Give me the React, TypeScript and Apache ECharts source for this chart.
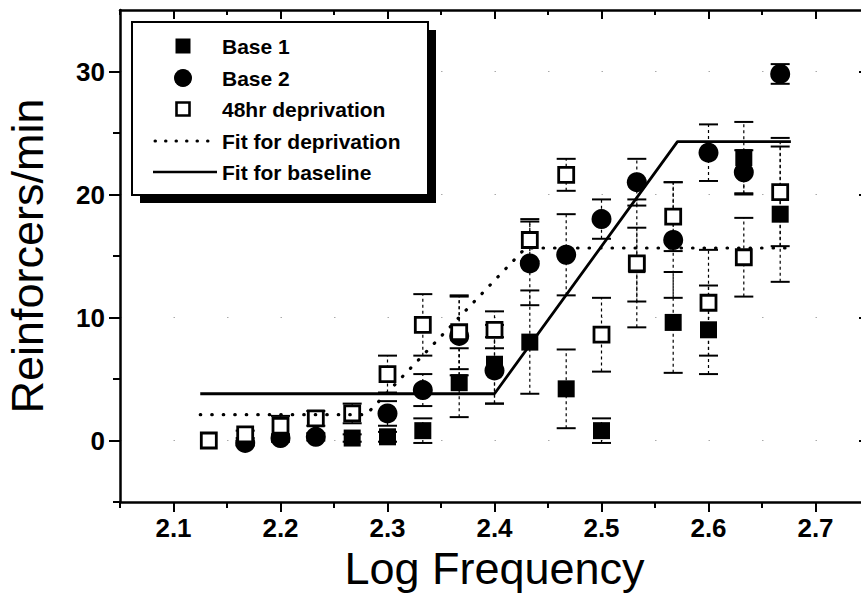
import React, { useEffect, useRef } from "react";
import * as echarts from "echarts";

const xValues = [2.133, 2.167, 2.2, 2.233, 2.267, 2.3, 2.333, 2.367, 2.4, 2.433, 2.467, 2.5, 2.533, 2.567, 2.6, 2.633, 2.667];
const base1 = [null, null, null, null, 0.2, 0.3, 0.8, 4.7, 6.2, 8.0, 4.2, 0.8, 14.3, 9.6, 9.0, 23.0, 18.4];
const base1Err = [null, null, null, null, 0.3, 0.4, 1.0, 2.8, 3.2, 4.2, 3.2, 1.0, 3.0, 4.1, 3.6, 2.9, 5.5];
const base2 = [null, -0.2, 0.2, 0.3, null, 2.2, 4.1, 8.5, 5.7, 14.4, 15.1, 18.0, 21.0, 16.3, 23.4, 21.8, 29.8];
const base2Err = [null, 0.2, 0.3, 0.3, null, 1.0, 1.3, 3.2, 2.7, 3.4, 3.3, 1.6, 1.9, 4.7, 2.3, 1.8, 0.8];
const deprivation = [0.0, 0.5, 1.2, 1.8, 2.2, 5.4, 9.4, 8.8, 9.0, 16.3, 21.6, 8.6, 14.4, 18.2, 11.2, 14.9, 20.2];
const deprivationErr = [0, 0.3, 0.8, 0.6, 0.8, 1.5, 2.5, 3.0, 1.5, 1.7, 1.3, 3.0, 5.2, 2.8, 4.3, 3.2, 4.4];

const fitDepX = [2.125, 2.28, 2.429, 2.675];
const fitDepY = [2.1, 2.1, 15.65, 15.65];
const fitBaseX = [2.125, 2.4, 2.571, 2.677];
const fitBaseY = [3.8, 3.8, 24.3, 24.3];

const xTicks = [2.1, 2.2, 2.3, 2.4, 2.5, 2.6, 2.7];
const xMinorTicks = [2.05, 2.15, 2.25, 2.35, 2.45, 2.55, 2.65, 2.75];
const yTicks = [0, 10, 20, 30];
const yMinorTicks = [-5, 5, 15, 25];

const legendNames = ["Base 1", "Base 2", "48hr deprivation", "Fit for deprivation", "Fit for baseline"];
const xTitle = "Log Frequency";
const yTitle = "Reinforcers/min";

const FONT = "'Liberation Sans', Arial, Helvetica, sans-serif";
const X_MIN = 2.05, X_MAX = 2.75, Y_MIN = -5, Y_MAX = 35;

function pairs(xs: number[], ys: (number | null)[]) {
  return xs.map((x, i) => (ys[i] == null ? null : [x, ys[i]])).filter((d) => d) as number[][];
}

function errorSeries(vals: (number | null)[], errs: (number | null)[], z: number) {
  const data: number[][] = [];
  xValues.forEach((x, i) => {
    const v = vals[i], e = errs[i];
    if (v != null && e) data.push([x, v - e, v + e]);
  });
  return {
    type: "custom",
    xAxisIndex: 0,
    yAxisIndex: 0,
    z,
    silent: true,
    data,
    encode: { x: 0, y: [1, 2] },
    renderItem: (params: any, api: any) => {
      const x = api.value(0);
      const lo = api.coord([x, api.value(1)]);
      const hi = api.coord([x, api.value(2)]);
      const hw = 9.5;
      return {
        type: "group",
        children: [
          { type: "line", shape: { x1: lo[0], y1: lo[1], x2: hi[0], y2: hi[1] }, style: { stroke: "#000", lineWidth: 1.2, lineDash: [3, 3] } },
          { type: "line", shape: { x1: lo[0] - hw, y1: lo[1], x2: lo[0] + hw, y2: lo[1] }, style: { stroke: "#000", lineWidth: 2 } },
          { type: "line", shape: { x1: hi[0] - hw, y1: hi[1], x2: hi[0] + hw, y2: hi[1] }, style: { stroke: "#000", lineWidth: 2 } },
        ],
      };
    },
  };
}

function xAxisDef(position: string, ticks: number[], len: number, inside: boolean, opts: any = {}) {
  return {
    type: "value",
    position,
    min: X_MIN,
    max: X_MAX,
    axisLine: { show: opts.line ?? false, onZero: false, lineStyle: { color: "#000", width: 2.5 } },
    axisTick: { show: true, inside, length: len, customValues: ticks, lineStyle: { color: "#000", width: 2 } },
    axisLabel: opts.labels
      ? { show: true, customValues: ticks, margin: 13, color: "#000", fontSize: 26, fontWeight: "bold", fontFamily: FONT, formatter: (v: number) => v.toFixed(1) }
      : { show: false },
    splitLine: { show: false },
    ...(opts.extra || {}),
  };
}

function yAxisDef(position: string, ticks: number[], len: number, inside: boolean, opts: any = {}) {
  return {
    type: "value",
    position,
    min: Y_MIN,
    max: Y_MAX,
    axisLine: { show: opts.line ?? false, onZero: false, lineStyle: { color: "#000", width: 2.5 } },
    axisTick: { show: true, inside, length: len, customValues: ticks, lineStyle: { color: "#000", width: 2 } },
    axisLabel: opts.labels
      ? { show: true, customValues: ticks, margin: 15, color: "#000", fontSize: 26, fontWeight: "bold", fontFamily: FONT }
      : { show: false },
    splitLine: { show: false },
    ...(opts.extra || {}),
  };
}

export default function App() {
  const ref = useRef<HTMLDivElement>(null);
  useEffect(() => {
    if (!ref.current) return;
    const chart = echarts.init(ref.current, undefined, { renderer: "svg" });
    const legendX = 183, textX = 222;
    const rows = [46, 78, 109, 141, 172];
    const option: any = {
      animation: false,
      backgroundColor: "#fff",
      grid: { left: 120, top: 10, right: -8, bottom: 106, containLabel: false, outerBoundsMode: "none" },
      xAxis: [
        xAxisDef("bottom", xTicks, 10, false, {
          line: true,
          labels: true,
          extra: {
            name: xTitle,
            nameLocation: "middle",
            nameGap: 42,
            nameTextStyle: { fontSize: 45, fontFamily: FONT, color: "#000", verticalAlign: "top" },
          },
        }),
        xAxisDef("bottom", xMinorTicks, 6, false),
        xAxisDef("top", xTicks, 9, true, { line: true }),
        xAxisDef("top", xMinorTicks, 5, true),
      ],
      yAxis: [
        yAxisDef("left", yTicks, 11, false, {
          line: true,
          labels: true,
          extra: {
            name: yTitle,
            nameLocation: "middle",
            nameGap: 70,
            nameTextStyle: { fontSize: 45, fontFamily: FONT, color: "#000" },
          },
        }),
        yAxisDef("left", yMinorTicks, 7, false),
        yAxisDef("right", yTicks, 10, true, {
          line: true,
          extra: { splitLine: { show: true, lineStyle: { color: "#aaa", width: 1.2, type: [1.5, 52] } } },
        }),
        yAxisDef("right", yMinorTicks, 6, true),
      ],
      series: [
        errorSeries(base1, base1Err, 2),
        errorSeries(base2, base2Err, 2),
        errorSeries(deprivation, deprivationErr, 2),
        {
          name: legendNames[0],
          type: "scatter",
          data: pairs(xValues, base1),
          symbol: "rect",
          symbolSize: 17,
          itemStyle: { color: "#000", opacity: 1 },
          z: 3,
          silent: true,
        },
        {
          name: legendNames[1],
          type: "scatter",
          data: pairs(xValues, base2),
          symbol: "circle",
          symbolSize: 20,
          itemStyle: { color: "#000", opacity: 1 },
          z: 4,
          silent: true,
        },
        {
          name: legendNames[2],
          type: "scatter",
          data: pairs(xValues, deprivation),
          symbol: "rect",
          symbolSize: 15,
          itemStyle: { color: "#fff", borderColor: "#000", borderWidth: 2.8, opacity: 1 },
          z: 5,
          silent: true,
        },
        {
          name: legendNames[3],
          type: "line",
          data: pairs(fitDepX, fitDepY),
          showSymbol: false,
          symbol: "none",
          lineStyle: { color: "#000", width: 3.2, type: [0.5, 11], cap: "round" },
          z: 6,
          silent: true,
        },
        {
          name: legendNames[4],
          type: "line",
          data: pairs(fitBaseX, fitBaseY),
          showSymbol: false,
          symbol: "none",
          lineStyle: { color: "#000", width: 2.8 },
          z: 6,
          silent: true,
        },
      ],
      graphic: [
        { type: "rect", shape: { x: 140, y: 30, width: 296, height: 173 }, style: { fill: "#000" }, z: 100 },
        { type: "rect", shape: { x: 132, y: 22, width: 296, height: 173 }, style: { fill: "#fff", stroke: "#000", lineWidth: 2 }, z: 101 },
        { type: "rect", shape: { x: legendX - 7.5, y: rows[0] - 7.5, width: 15, height: 15 }, style: { fill: "#000" }, z: 102 },
        { type: "circle", shape: { cx: legendX, cy: rows[1], r: 9 }, style: { fill: "#000" }, z: 102 },
        { type: "rect", shape: { x: legendX - 6.5, y: rows[2] - 6.5, width: 13, height: 13 }, style: { fill: "#fff", stroke: "#000", lineWidth: 2.6 }, z: 102 },
        { type: "line", shape: { x1: 155, y1: rows[3], x2: 217, y2: rows[3] }, style: { stroke: "#000", lineWidth: 3, lineDash: [0.5, 10], lineCap: "round" }, z: 102 },
        { type: "line", shape: { x1: 153, y1: rows[4], x2: 217, y2: rows[4] }, style: { stroke: "#000", lineWidth: 2.6 }, z: 102 },
        ...legendNames.map((name, i) => ({
          type: "text",
          x: textX,
          y: rows[i],
          style: { text: name, fontSize: 21, fontWeight: "bold", fontFamily: FONT, fill: "#000", verticalAlign: "middle", align: "left" },
          z: 102,
        })),
      ],
    };
    chart.setOption(option);
    return () => chart.dispose();
  }, []);
  return <div ref={ref} style={{ position: "fixed", left: 0, top: 0, width: 861, height: 608 }} />;
}
